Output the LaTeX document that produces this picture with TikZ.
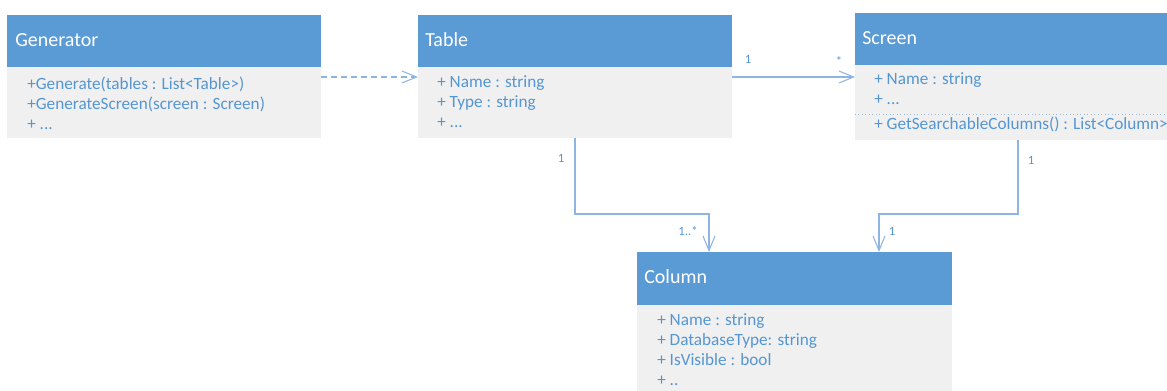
\documentclass[tikz,border=0pt]{standalone}
\usepackage{fontspec}
\setmainfont{Carlito}
\usetikzlibrary{arrows.meta,calc}
\definecolor{hdrblue}{HTML}{5B9BD5}
\definecolor{bodygrey}{HTML}{F0F0F0}
\definecolor{membertext}{HTML}{5596D2}
\definecolor{linkblue}{HTML}{8EB4E3}
\definecolor{sepgrey}{HTML}{9DB9D9}
\begin{document}
\begin{tikzpicture}[x=0.75pt,y=-0.75pt,
  hdr/.style={fill=hdrblue, anchor=north west, inner sep=0pt, outer sep=0pt},
  classbody/.style={fill=bodygrey, anchor=north west, inner sep=0pt, outer sep=0pt},
  classtitle/.style={anchor=base west, inner sep=0pt, text=white, font=\fontsize{15}{17}\selectfont},
  member/.style={anchor=base west, inner sep=0pt, text=membertext, font=\fontsize{12.9}{15}\selectfont},
  mult/.style={anchor=base, inner sep=0pt, text=membertext, font=\fontsize{9.5}{11}\selectfont},
  link/.style={draw=linkblue, line width=0.8pt, -{Straight Barb[length=11pt,width=9pt]}},
  dep/.style={link, dash pattern=on 4.5pt off 3pt}]
\useasboundingbox (0,0) rectangle (1167,391);

% Generator
\node[hdr, minimum width=314*0.75pt, minimum height=52*0.75pt] (genhead) at (7,15) {};
\node[classbody, minimum width=314*0.75pt, minimum height=71*0.75pt] (genbody) at (7,67) {};
\node[classtitle] (gentitle) at (15,47) {Generator};
\node[member] (gen1) at (27,90) {+Generate(tables : List<Table>)};
\node[member] (gen2) at (27,110) {+GenerateScreen(screen : Screen)};
\node[member] (gen3) at (27,130) {+ ...};

% Table
\node[hdr, minimum width=314*0.75pt, minimum height=52*0.75pt] (tblhead) at (418,15) {};
\node[classbody, minimum width=314*0.75pt, minimum height=71*0.75pt] (tblbody) at (418,67) {};
\node[classtitle] (tbltitle) at (425,47) {Table};
\node[member] (tbl1) at (437,88) {+ Name : string};
\node[member] (tbl2) at (437,108) {+ Type : string};
\node[member] (tbl3) at (437,128) {+ ...};

% Screen
\node[hdr, minimum width=326*0.75pt, minimum height=52*0.75pt] (scrhead) at (855,13) {};
\node[classbody, minimum width=326*0.75pt, minimum height=75*0.75pt] (scrbody) at (855,65) {};
\node[classtitle] (scrtitle) at (862,45) {Screen};
\node[member] (scr1) at (874,85) {+ Name : string};
\node[member] (scr2) at (874,105) {+ ...};
\draw[sepgrey, line width=0.6pt, dotted] ($(scrbody.north west)+(0,49)$) -- ($(scrbody.north east)+(0,49)$);
\node[member] (scr3) at (874,130) {+ GetSearchableColumns() : List<Column>};

% Column
\node[hdr, minimum width=315*0.75pt, minimum height=53*0.75pt] (colhead) at (637,252) {};
\node[classbody, minimum width=315*0.75pt, minimum height=90*0.75pt] (colbody) at (637,305) {};
\node[classtitle] (coltitle) at (644,284) {Column};
\node[member] (col1) at (657,326) {+ Name : string};
\node[member] (col2) at (657,346) {+ DatabaseType: string};
\node[member] (col3) at (657,366) {+ IsVisible : bool};
\node[member] (col4) at (657,386) {+ ..};

% Connectors
\draw[dep] ($(genbody.north east)+(0,10)$) -- ($(tblbody.north west)+(0,10)$);
\draw[link] ($(tblbody.north east)+(0,10)$) -- ($(scrbody.north west)+(0,12)$);
\draw[link] (tblbody.south) -- ++(0,76) -| ($(colhead.north west)+(72,0)$);
\draw[link] (scrbody.south) -- ++(0,74) -| ($(colhead.north west)+(242,0)$);

% Multiplicities
\node[mult] (m1) at (748,64) {1};
\node[mult] (m2) at (839,66) {*};
\node[mult] (m3) at (561,163) {1};
\node[mult] (m4) at (688,236) {1..*};
\node[mult] (m5) at (1031,165) {1};
\node[mult] (m6) at (892,236) {1};
\end{tikzpicture}
\end{document}
